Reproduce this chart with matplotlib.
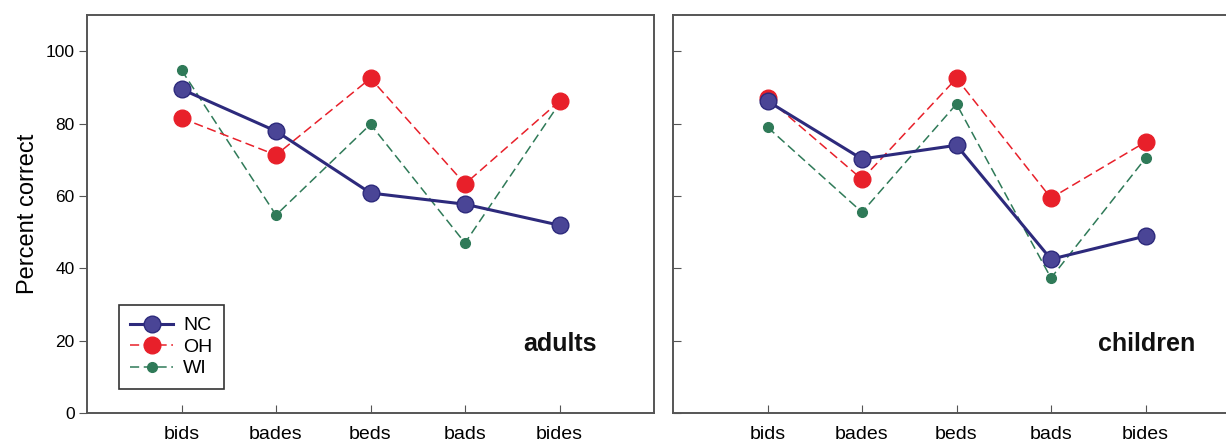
import matplotlib.pyplot as plt

plt.rcParams['font.family'] = ['Liberation Sans', 'DejaVu Sans']

# categories on the x axis
words = ['bids', 'bades', 'beds', 'bads', 'bides']

# adults
adults_nc = [89.5, 77.9, 60.8, 57.7, 51.9]
adults_oh = [81.5, 71.3, 92.5, 63.3, 86.2]
adults_wi = [94.8, 54.7, 79.8, 47.0, 85.6]

# children
children_nc = [86.2, 70.2, 74.0, 42.5, 48.9]
children_oh = [87.0, 64.6, 92.5, 59.4, 74.9]
children_wi = [79.0, 55.5, 85.4, 37.3, 70.4]

navy = '#2d2a7c'
navy_fill = '#4a4596'
red = '#e8202a'
green = '#2f7a58'
spine_col = '#555555'

fig = plt.figure(figsize=(12.26, 4.44), dpi=100)
ax1 = fig.add_axes([87 / 1226, 31 / 444, 567 / 1226, 398 / 444])
ax2 = fig.add_axes([673 / 1226, 31 / 444, 567 / 1226, 398 / 444])

x = list(range(1, len(words) + 1))


def draw_panel(ax, nc, oh, wi, label):
    ax.plot(x, nc, '-', color=navy, lw=2.2, marker='o', ms=12,
            mfc=navy_fill, mec=navy, mew=1.0, label='NC', zorder=4)
    ax.plot(x, oh, '--', color=red, lw=1.1, dashes=(6, 3), marker='o', ms=12,
            mfc=red, mec=red, label='OH', zorder=3)
    ax.plot(x, wi, '--', color=green, lw=1.1, dashes=(6, 3), marker='o', ms=7,
            mfc=green, mec=green, label='WI', zorder=2)
    ax.set_xlim(0, 6)
    ax.set_ylim(0, 110)
    ax.set_xticks(x)
    ax.set_xticklabels(words, fontsize=14)
    ax.set_yticks([0, 20, 40, 60, 80, 100])
    for s in ax.spines.values():
        s.set_color(spine_col)
        s.set_linewidth(1.4)
    ax.tick_params(axis='x', direction='in', length=6, color=spine_col, pad=9)
    ax.text(0.835, 0.173, label, transform=ax.transAxes, fontsize=18,
            fontweight='bold', ha='center', va='center', color='#111111')


draw_panel(ax1, adults_nc, adults_oh, adults_wi, 'adults')
draw_panel(ax2, children_nc, children_oh, children_wi, 'children')

ax1.tick_params(axis='y', direction='out', length=6, color=spine_col,
                labelsize=12.5, pad=3)
ax1.set_ylabel('Percent correct', fontsize=17, labelpad=5)
ax2.tick_params(axis='y', direction='in', length=6, color=spine_col,
                labelleft=False)

leg = ax1.legend(loc='lower left', bbox_to_anchor=(0.056, 0.06), fontsize=14,
                 fancybox=False, edgecolor='#333333', framealpha=1,
                 handlelength=2.2, borderpad=0.6, labelspacing=0.2,
                 handletextpad=0.5, borderaxespad=0)
leg.get_frame().set_linewidth(1.2)

fig.savefig('out.png', dpi=100)
